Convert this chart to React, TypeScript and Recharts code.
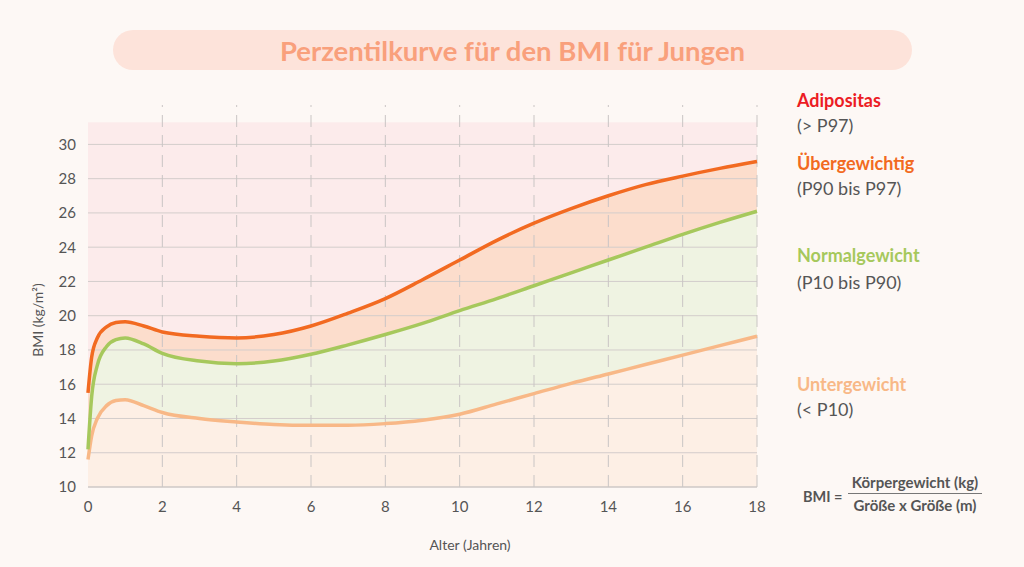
import { ComposedChart, Area, Line, XAxis, YAxis, ReferenceLine } from 'recharts';

// Alter in Jahren
const ages = [0, 0.1, 0.25, 0.5, 0.75, 1, 1.5, 2, 3, 4, 5, 6, 7, 8, 9, 10, 11, 12, 13, 14, 15, 16, 17, 18];
const p97 = [15.5, 17.6, 18.7, 19.35, 19.6, 19.65, 19.4, 19.05, 18.8, 18.7, 18.9, 19.4, 20.15, 21.0, 22.1, 23.25, 24.4, 25.4, 26.25, 27.0, 27.65, 28.15, 28.6, 29.0];
const p90 = [12.2, 15.3, 17.1, 18.2, 18.6, 18.7, 18.35, 17.8, 17.35, 17.2, 17.35, 17.75, 18.3, 18.9, 19.55, 20.3, 21.0, 21.75, 22.5, 23.25, 24.0, 24.75, 25.45, 26.1];
const p10 = [11.6, 13.0, 14.0, 14.75, 15.05, 15.1, 14.75, 14.35, 14.0, 13.8, 13.65, 13.6, 13.6, 13.7, 13.9, 14.25, 14.85, 15.45, 16.05, 16.6, 17.15, 17.7, 18.25, 18.8];
const bandTop = 31.3;
const bandBottom = 10;

const xTicks = [0, 2, 4, 6, 8, 10, 12, 14, 16, 18];
const yTicks = [10, 12, 14, 16, 18, 20, 22, 24, 26, 28, 30];

const data = ages.map((a, i) => ({
    age: a,
    p97: p97[i],
    p90: p90[i],
    p10: p10[i],
    adipos: [p97[i], bandTop],
    ueber: [p90[i], p97[i]],
    normal: [p10[i], p90[i]],
    unter: [bandBottom, p10[i]],
}));

const font = 'Lato, "Open Sans", sans-serif';
const grey = '#555';

function App() {
    return (
        <div style={{ position: 'relative', width: 1024, height: 567, background: '#fdf8f5', fontFamily: font }}>
            <style>{`body{margin:0}`}</style>
            <div style={{
                position: 'absolute', left: 113, top: 30, width: 799, height: 40, borderRadius: 20,
                background: '#fde3da', color: '#f9a07c', fontWeight: 700, fontSize: 27.5,
                display: 'flex', alignItems: 'center', justifyContent: 'center'
            }}>
                Perzentilkurve für den BMI für Jungen
            </div>

            <ComposedChart width={1024} height={567} data={data}
                margin={{ top: 105, right: 267, bottom: 50, left: 48 }}
                style={{ position: 'absolute', left: 0, top: 0 }}>
                <XAxis dataKey="age" type="number" domain={[0, 18]} ticks={xTicks} height={30}
                    axisLine={{ stroke: '#cbc6c4' }} tickLine={false} tickSize={0} tickMargin={14}
                    tick={{ fill: grey, fontSize: 15, fontFamily: font }} />
                <YAxis type="number" domain={[10, 32.3]} ticks={yTicks} width={40} allowDataOverflow
                    axisLine={false} tickLine={false} tickSize={0} tickMargin={12}
                    tick={{ fill: grey, fontSize: 15, fontFamily: font }} />

                <Area type="monotone" dataKey="adipos" stroke="none" fill="#fcebeb" fillOpacity={1} isAnimationActive={false} activeDot={false} />
                <Area type="monotone" dataKey="ueber" stroke="none" fill="#fcddcc" fillOpacity={1} isAnimationActive={false} activeDot={false} />
                <Area type="monotone" dataKey="normal" stroke="none" fill="#eff3e2" fillOpacity={1} isAnimationActive={false} activeDot={false} />
                <Area type="monotone" dataKey="unter" stroke="none" fill="#fdefe5" fillOpacity={1} isAnimationActive={false} activeDot={false} />

                {yTicks.map(t => (
                    <ReferenceLine key={'h' + t} y={t} stroke="#d3cdcb" strokeWidth={1} />
                ))}
                {xTicks.filter(t => t > 0).map(t => (
                    <ReferenceLine key={'v' + t} x={t} stroke="#c9c5c4" strokeWidth={1} strokeDasharray="12 8" />
                ))}

                <Line type="monotone" dataKey="p10" stroke="#f8b887" strokeWidth={3.5} dot={false} activeDot={false} isAnimationActive={false} />
                <Line type="monotone" dataKey="p90" stroke="#a6c85c" strokeWidth={3.5} dot={false} activeDot={false} isAnimationActive={false} />
                <Line type="monotone" dataKey="p97" stroke="#f26a21" strokeWidth={3.5} dot={false} activeDot={false} isAnimationActive={false} />
            </ComposedChart>

            <div style={{
                position: 'absolute', left: 37, top: 320, transform: 'translate(-50%, -50%) rotate(-90deg)',
                whiteSpace: 'nowrap', fontSize: 14, color: grey
            }}>BMI (kg/m²)</div>
            <div style={{
                position: 'absolute', left: 470, top: 544, transform: 'translate(-50%, -50%)',
                whiteSpace: 'nowrap', fontSize: 14, color: grey
            }}>Alter (Jahren)</div>

            <div style={{ position: 'absolute', left: 797, top: 88, fontSize: 18, lineHeight: '25px' }}>
                <div style={{ color: '#ec1c24', fontWeight: 700 }}>Adipositas</div>
                <div style={{ color: grey }}>(&gt; P97)</div>
            </div>
            <div style={{ position: 'absolute', left: 797, top: 151, fontSize: 18, lineHeight: '25px' }}>
                <div style={{ color: '#f26a21', fontWeight: 700 }}>Übergewichtig</div>
                <div style={{ color: grey }}>(P90 bis P97)</div>
            </div>
            <div style={{ position: 'absolute', left: 797, top: 242, fontSize: 18, lineHeight: '27px' }}>
                <div style={{ color: '#a6c85c', fontWeight: 700 }}>Normalgewicht</div>
                <div style={{ color: grey }}>(P10 bis P90)</div>
            </div>
            <div style={{ position: 'absolute', left: 797, top: 372, fontSize: 18, lineHeight: '25px' }}>
                <div style={{ color: '#f8b887', fontWeight: 700 }}>Untergewicht</div>
                <div style={{ color: grey }}>(&lt; P10)</div>
            </div>

            <div style={{ position: 'absolute', left: 803, top: 488, fontSize: 14.5, fontWeight: 700, color: grey }}>BMI =</div>
            <div style={{ position: 'absolute', left: 848, top: 473, width: 134, fontSize: 15, fontWeight: 700, color: grey, textAlign: 'center' }}>
                <div style={{ paddingBottom: 2, borderBottom: '1px solid #777', whiteSpace: 'nowrap' }}>Körpergewicht (kg)</div>
                <div style={{ paddingTop: 2, whiteSpace: 'nowrap' }}>Größe x Größe (m)</div>
            </div>
        </div>
    );
}

export default App;
